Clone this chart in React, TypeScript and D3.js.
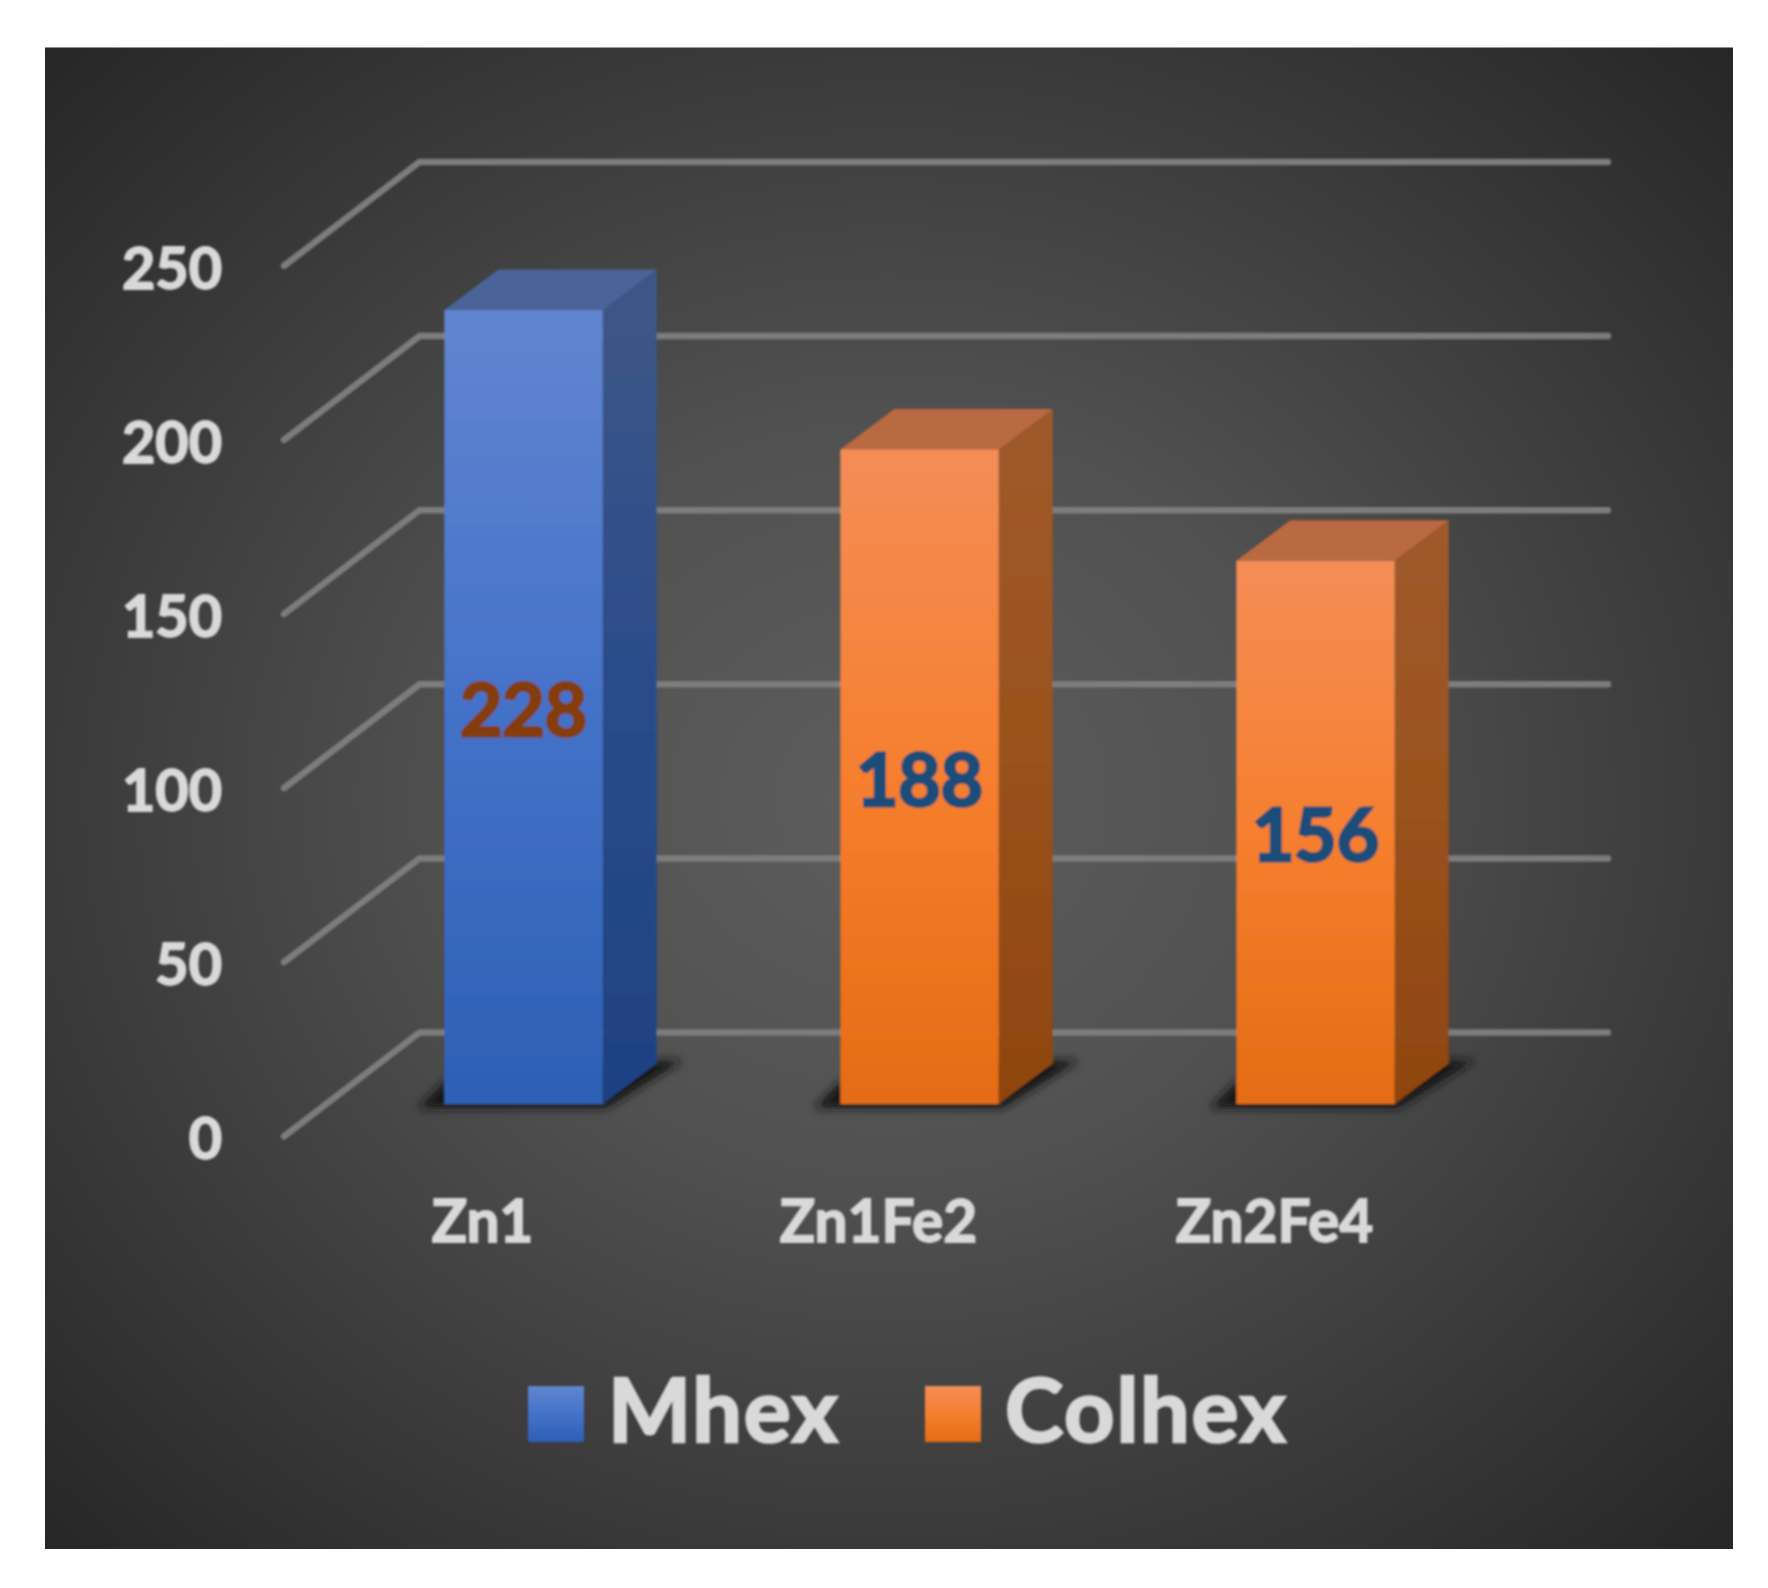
import React, { useEffect, useRef } from 'react';
import * as d3 from 'd3';

const categories = ['Zn1', 'Zn1Fe2', 'Zn2Fe4'];
const barValues = [228, 188, 156];
const barSeries = ['Mhex', 'Colhex', 'Colhex'];
const labelColors = ['#843c0c', '#1f4e79', '#1f4e79'];
const yTicks = [0, 50, 100, 150, 200, 250];
const legendNames = ['Mhex', 'Colhex'];

const W = 1768;
const H = 1588;
const FONT = 'Lato, "Open Sans", sans-serif';

// bar depth in the fake 3d view
const DX = 54;
const DY = 40.5;

const App: React.FC = () => {
  const svgRef = useRef<SVGSVGElement>(null);

  useEffect(() => {
    if (!svgRef.current) return;
    const svg = d3.select(svgRef.current);
    svg.selectAll('*').remove();

    const x = d3.scaleBand<string>().domain(categories).range([325.5, 1513.5]).paddingInner(0.6).paddingOuter(0.3);
    const y = d3.scaleLinear().domain([0, 250]).range([1104, 233.5]);

    const defs = svg.append('defs');

    const bg = defs.append('radialGradient').attr('id', 'bg').attr('cx', 0.5).attr('cy', 0.5).attr('r', 0.71);
    bg.append('stop').attr('offset', 0).attr('stop-color', '#5d5d5d');
    bg.append('stop').attr('offset', 0.35).attr('stop-color', '#515151');
    bg.append('stop').attr('offset', 1).attr('stop-color', '#262626');

    const grad = (id: string, stops: string[]) => {
      const g = defs.append('linearGradient').attr('id', id).attr('x1', 0).attr('y1', 0).attr('x2', 0).attr('y2', 1);
      stops.forEach((c, i) => g.append('stop').attr('offset', i / (stops.length - 1)).attr('stop-color', c));
    };
    grad('Mhex-front', ['#6285d0', '#4472c9', '#2d60b5']);
    grad('Mhex-side', ['#3f5788', '#2a4c8a', '#1e4182']);
    grad('Colhex-front', ['#f48d57', '#f67f2f', '#e46c14']);
    grad('Colhex-side', ['#a05a2c', '#9a521d', '#8f450f']);
    const topColor: Record<string, string> = { Mhex: '#4b6398', Colhex: '#b96a40' };

    defs.append('filter').attr('id', 'soft').attr('x', '-5%').attr('y', '-5%').attr('width', '110%').attr('height', '110%')
      .append('feGaussianBlur').attr('stdDeviation', 1);
    defs.append('filter').attr('id', 'shadow').attr('x', '-20%').attr('y', '-50%').attr('width', '140%').attr('height', '200%')
      .append('feGaussianBlur').attr('stdDeviation', 4.5);

    svg.append('rect').attr('x', 45).attr('y', 47.5).attr('width', 1688).attr('height', 1501.5).attr('fill', 'url(#bg)');

    const g = svg.append('g').attr('filter', 'url(#soft)');

    // Gridlines: slanted side wall, then the back wall
    g.selectAll('.grid')
      .data(yTicks)
      .enter().append('path')
      .attr('d', d => `M284,${y(d) + 32.3}L419.5,${y(d) - 71.5}L1608,${y(d) - 71.5}`)
      .attr('fill', 'none')
      .attr('stroke', '#7d7d7d')
      .attr('stroke-width', 6.5)
      .attr('stroke-linecap', 'round');

    // Bars
    const bars = g.selectAll('.bar')
      .data(categories)
      .enter().append('g');

    bars.append('path')
      .attr('d', c => {
        const x0 = x(c)!;
        const x1 = x0 + x.bandwidth();
        return `M${x0 - 26},${y(0) + 4}L${x1 + 4},${y(0) + 4}L${x1 + DX + 26},${y(0) - DY - 3}L${x1 + DX},${y(0) - DY - 3}L${x0},${y(0) - 22}Z`;
      })
      .attr('fill', '#141414')
      .attr('filter', 'url(#shadow)');

    bars.append('path')
      .attr('d', (c, i) => {
        const x1 = x(c)! + x.bandwidth();
        const top = y(barValues[i]);
        return `M${x1},${top}L${x1 + DX},${top - DY}L${x1 + DX},${y(0) - DY}L${x1},${y(0)}Z`;
      })
      .attr('fill', (c, i) => `url(#${barSeries[i]}-side)`);

    bars.append('path')
      .attr('d', (c, i) => {
        const x0 = x(c)!;
        const x1 = x0 + x.bandwidth();
        const top = y(barValues[i]);
        return `M${x0},${top}L${x0 + DX},${top - DY}L${x1 + DX},${top - DY}L${x1},${top}Z`;
      })
      .attr('fill', (c, i) => topColor[barSeries[i]]);

    bars.append('rect')
      .attr('x', c => x(c)!)
      .attr('y', (c, i) => y(barValues[i]))
      .attr('width', x.bandwidth())
      .attr('height', (c, i) => y(0) - y(barValues[i]))
      .attr('fill', (c, i) => `url(#${barSeries[i]}-front)`);

    // Data labels
    bars.append('text')
      .attr('x', c => x(c)! + x.bandwidth() / 2)
      .attr('y', (c, i) => (y(barValues[i]) + y(0)) / 2 + 29)
      .attr('text-anchor', 'middle')
      .attr('fill', (c, i) => labelColors[i])
      .attr('stroke', (c, i) => labelColors[i])
      .attr('stroke-width', 3)
      .style('font-size', '73px')
      .style('font-weight', 700)
      .style('font-family', FONT)
      .text((c, i) => barValues[i]);

    // Y tick labels
    g.selectAll('.tick')
      .data(yTicks)
      .enter().append('text')
      .attr('x', 222)
      .attr('y', d => y(d) + 55)
      .attr('text-anchor', 'end')
      .attr('fill', '#d9d9d9')
      .attr('stroke', '#d9d9d9')
      .attr('stroke-width', 1.8)
      .style('font-size', '57.5px')
      .style('font-weight', 700)
      .style('font-family', FONT)
      .text(d => d);

    // Category labels sit left of the bars, on the floor's front edge
    g.selectAll('.cat')
      .data(categories)
      .enter().append('text')
      .attr('x', c => x(c)! + x.bandwidth() / 2 - 41)
      .attr('y', 1241.5)
      .attr('text-anchor', 'middle')
      .attr('fill', '#d9d9d9')
      .attr('stroke', '#d9d9d9')
      .attr('stroke-width', 1.8)
      .style('font-size', '58.5px')
      .style('font-weight', 700)
      .style('font-family', FONT)
      .text(c => c);

    // Legend
    const legend = d3.scaleOrdinal<string, number>().domain(legendNames).range([528, 925]);
    const items = g.selectAll('.legend')
      .data(legendNames)
      .enter().append('g');
    items.append('rect')
      .attr('x', d => legend(d))
      .attr('y', 1386)
      .attr('width', 56)
      .attr('height', 56)
      .attr('fill', d => `url(#${d}-front)`);
    items.append('text')
      .attr('x', d => legend(d) + 80)
      .attr('y', 1441.5)
      .attr('fill', '#d9d9d9')
      .attr('stroke', '#d9d9d9')
      .attr('stroke-width', 2.6)
      .style('font-size', '88px')
      .style('font-weight', 700)
      .style('font-family', FONT)
      .style('letter-spacing', '1.8px')
      .text(d => d);
  }, []);

  return (
    <svg
      ref={svgRef}
      width={W}
      height={H}
      viewBox={`0 0 ${W} ${H}`}
      style={{ position: 'absolute', left: 0, top: 0, background: '#fff' }}
    />
  );
};

export default App;
